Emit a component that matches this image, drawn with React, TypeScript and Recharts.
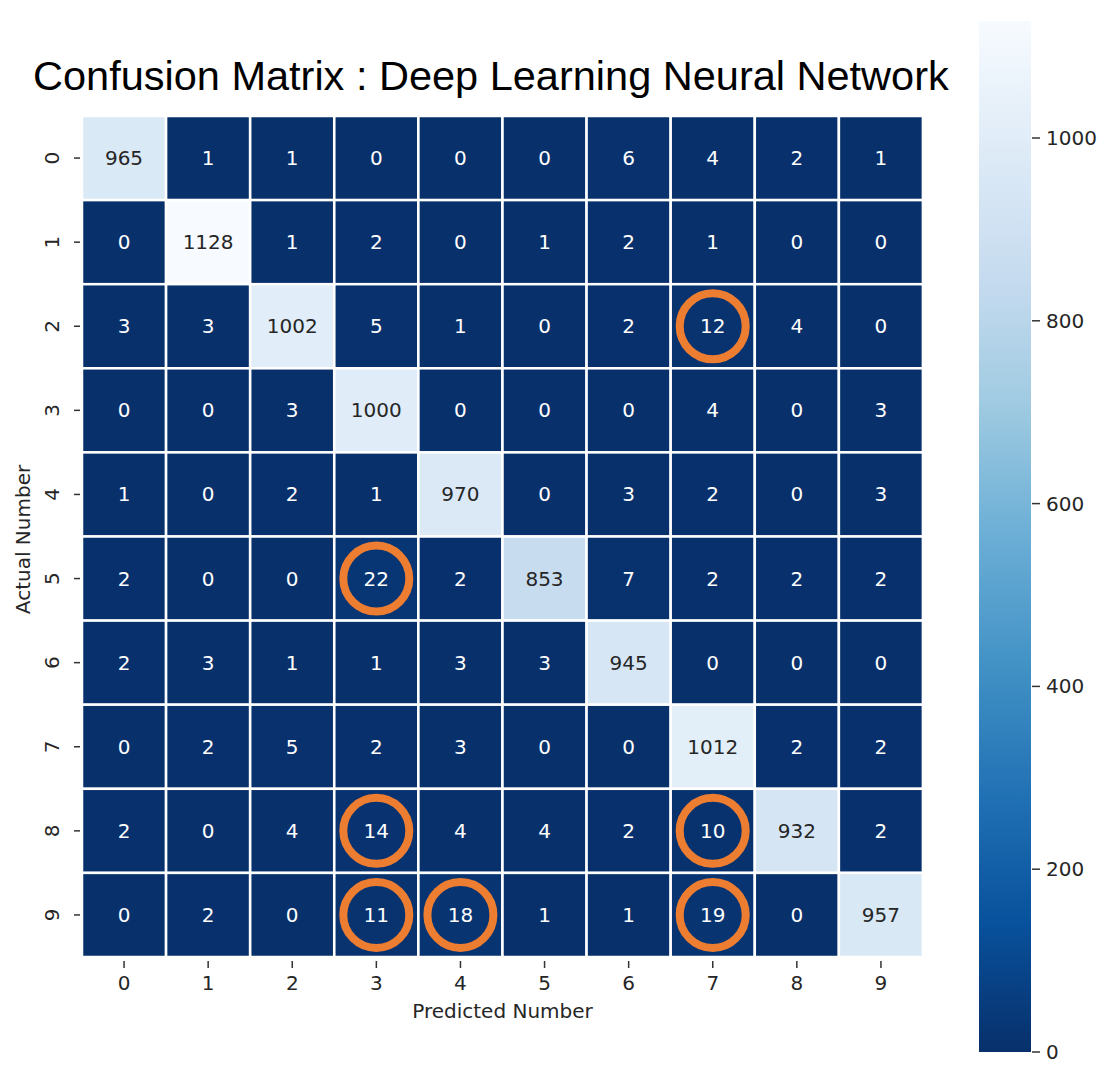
import React from "react";
import { ComposedChart, BarChart, Bar, XAxis, YAxis } from "recharts";

// ---- Data ----
const predictedLabels = ["0", "1", "2", "3", "4", "5", "6", "7", "8", "9"];
const actualLabels = ["0", "1", "2", "3", "4", "5", "6", "7", "8", "9"];

const actual0 = [965, 1, 1, 0, 0, 0, 6, 4, 2, 1];
const actual1 = [0, 1128, 1, 2, 0, 1, 2, 1, 0, 0];
const actual2 = [3, 3, 1002, 5, 1, 0, 2, 12, 4, 0];
const actual3 = [0, 0, 3, 1000, 0, 0, 0, 4, 0, 3];
const actual4 = [1, 0, 2, 1, 970, 0, 3, 2, 0, 3];
const actual5 = [2, 0, 0, 22, 2, 853, 7, 2, 2, 2];
const actual6 = [2, 3, 1, 1, 3, 3, 945, 0, 0, 0];
const actual7 = [0, 2, 5, 2, 3, 0, 0, 1012, 2, 2];
const actual8 = [2, 0, 4, 14, 4, 4, 2, 10, 932, 2];
const actual9 = [0, 2, 0, 11, 18, 1, 1, 19, 0, 957];

const matrixRows = [actual0, actual1, actual2, actual3, actual4, actual5, actual6, actual7, actual8, actual9];

// highlighted (circled) cells: [actual, predicted]
const circledCells = [
  [2, 7],
  [5, 3],
  [8, 3],
  [8, 7],
  [9, 3],
  [9, 4],
  [9, 7],
];

const colorbarTicks = [0, 200, 400, 600, 800, 1000];
const colorMax = 1128;

// ---- Colormap (matplotlib Blues, reversed) ----
const BLUES = ["#f7fbff", "#deebf7", "#c6dbef", "#9ecae1", "#6baed6", "#4292c6", "#2171b5", "#08519c", "#08306b"];

function hexToRgb(h: string) {
  return [parseInt(h.slice(1, 3), 16), parseInt(h.slice(3, 5), 16), parseInt(h.slice(5, 7), 16)];
}
function bluesAt(t: number) {
  const tt = Math.max(0, Math.min(1, t));
  const pos = tt * (BLUES.length - 1);
  const i = Math.min(BLUES.length - 2, Math.floor(pos));
  const f = pos - i;
  const a = hexToRgb(BLUES[i]);
  const b = hexToRgb(BLUES[i + 1]);
  const c = a.map((v, k) => Math.round(v + (b[k] - v) * f));
  return `rgb(${c[0]},${c[1]},${c[2]})`;
}
function cellColor(v: number) {
  return bluesAt(1 - v / colorMax);
}

// Table for the stacked bar heatmap: one category per predicted number,
// one unit-height stack segment per actual number.
const heatData = predictedLabels.map((p) => {
  const row: any = { pred: p };
  actualLabels.forEach((_, ri) => {
    row[`a${ri}`] = 1;
  });
  return row;
});

const FONT = "'DejaVu Sans', sans-serif";

function makeCellShape(ri: number) {
  return (props: any) => {
    let { x, y, width, height } = props;
    const { index } = props;
    if (height < 0) {
      y = y + height;
      height = -height;
    }
    if (width < 0) {
      x = x + width;
      width = -width;
    }
    const v = matrixRows[ri][index];
    const cx = x + width / 2;
    const cy = y + height / 2;
    const light = v / colorMax > 0.5;
    const circled = circledCells.some((c) => c[0] === ri && c[1] === index);
    return (
      <g>
        <rect x={x} y={y} width={width} height={height} fill={cellColor(v)} stroke="#ffffff" strokeWidth={2.5} />
        <text
          x={cx}
          y={cy + 7}
          textAnchor="middle"
          fontFamily={FONT}
          fontSize={20}
          fill={light ? "#262626" : "#ffffff"}
        >
          {v}
        </text>
        {circled && <circle cx={cx} cy={cy} r={33} fill="none" stroke="#ED7D31" strokeWidth={8} />}
      </g>
    );
  };
}

const XTick = (props: any) => {
  const { x, y, payload } = props;
  return (
    <g>
      <line x1={x} x2={x} y1={y + 4} y2={y + 11} stroke="#333" strokeWidth={1.5} />
      <text x={x} y={y + 33} textAnchor="middle" fontFamily={FONT} fontSize={20} fill="#262626">
        {payload.value}
      </text>
    </g>
  );
};

const YTick = (props: any) => {
  const { x, y, payload } = props;
  const tx = x - 23;
  return (
    <g>
      <line x1={x - 8} x2={x - 2} y1={y} y2={y} stroke="#333" strokeWidth={1.5} />
      <text
        x={tx}
        y={y}
        textAnchor="middle"
        fontFamily={FONT}
        fontSize={20}
        fill="#262626"
        transform={`rotate(-90, ${tx}, ${y})`}
      >
        {actualLabels[Math.round(payload.value - 0.5)]}
      </text>
    </g>
  );
};

const CbTick = (props: any) => {
  const { x, y, payload } = props;
  return (
    <g>
      <line x1={x + 1} x2={x + 9} y1={y} y2={y} stroke="#333" strokeWidth={1.5} />
      <text x={x + 15} y={y + 7} textAnchor="start" fontFamily={FONT} fontSize={20} fill="#262626">
        {payload.value}
      </text>
    </g>
  );
};

const yTickValues = actualLabels.map((_, i) => i + 0.5);

export default function App() {
  return (
    <div style={{ position: "absolute", left: 0, top: 0, width: 1111, height: 1079, background: "#ffffff" }}>
      <svg width={1111} height={110} style={{ position: "absolute", left: 0, top: 0 }}>
        <text x={33} y={90} fontFamily="'Liberation Sans', Arial, sans-serif" fontSize={41.5} fill="#000000">
          Confusion Matrix : Deep Learning Neural Network
        </text>
      </svg>

      <div style={{ position: "absolute", left: 0, top: 0 }}>
        <ComposedChart
          width={960}
          height={1079}
          data={heatData}
          margin={{ top: 116, right: 37, bottom: 60, left: 0 }}
          barCategoryGap={0}
          barGap={0}
        >
          <XAxis
            dataKey="pred"
            type="category"
            axisLine={false}
            tickLine={false}
            tickSize={0}
            tickMargin={0}
            height={62}
            tick={<XTick />}
            interval={0}
            label={(p: any) => {
              const vb = p.viewBox || { x: 82, y: 957, width: 841 };
              return (
                <text
                  x={vb.x + vb.width / 2}
                  y={vb.y + 61}
                  textAnchor="middle"
                  fontFamily={FONT}
                  fontSize={20}
                  fill="#262626"
                >
                  Predicted Number
                </text>
              );
            }}
          />
          <YAxis
            type="number"
            domain={[0, 10]}
            reversed
            width={82}
            ticks={yTickValues}
            axisLine={false}
            tickLine={false}
            tickSize={0}
            tickMargin={0}
            tick={<YTick />}
            interval={0}
            label={(p: any) => {
              const vb = p.viewBox || { x: 0, y: 116, width: 82, height: 841 };
              const lx = vb.x + 30;
              const ly = vb.y + vb.height / 2 + 3;
              return (
                <text
                  x={lx}
                  y={ly}
                  textAnchor="middle"
                  fontFamily={FONT}
                  fontSize={20}
                  fill="#262626"
                  transform={`rotate(-90, ${lx}, ${ly})`}
                >
                  Actual Number
                </text>
              );
            }}
          />
          {actualLabels.map((_, ri) => (
            <Bar
              key={ri}
              dataKey={`a${ri}`}
              stackId="m"
              isAnimationActive={false}
              shape={makeCellShape(ri)}
            />
          ))}
        </ComposedChart>
      </div>

      <div style={{ position: "absolute", left: 960, top: 0 }}>
        <BarChart
          width={151}
          height={1079}
          data={[{ k: "cb", v: colorMax }]}
          margin={{ top: 21, right: 0, bottom: 27, left: 19 }}
          barCategoryGap={0}
        >
          <defs>
            <linearGradient id="cbGrad" x1="0" y1="1" x2="0" y2="0">
              {BLUES.slice()
                .reverse()
                .map((c, i) => (
                  <stop key={i} offset={i / (BLUES.length - 1)} stopColor={c} />
                ))}
            </linearGradient>
          </defs>
          <XAxis dataKey="k" hide />
          <YAxis
            orientation="right"
            type="number"
            domain={[0, colorMax]}
            ticks={colorbarTicks}
            width={80}
            axisLine={false}
            tickLine={false}
            tickSize={0}
            tickMargin={0}
            tick={<CbTick />}
            interval={0}
          />
          <Bar dataKey="v" fill="url(#cbGrad)" isAnimationActive={false} />
        </BarChart>
      </div>
    </div>
  );
}
